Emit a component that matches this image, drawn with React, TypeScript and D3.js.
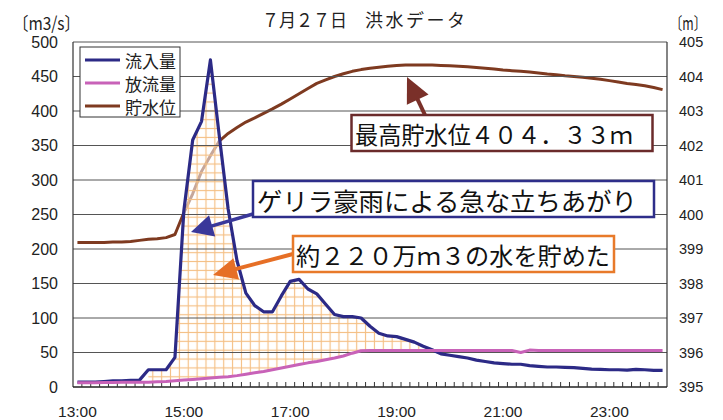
import React from 'react';
import * as d3 from 'd3';

// categories: every 10 minutes from 13:00 to 24:00
const times: string[] = d3.range(67).map((i) => {
  const m = 13 * 60 + i * 10;
  return `${Math.floor(m / 60)}:${String(m % 60).padStart(2, '0')}`;
});
const xTickLabels = ['13:00', '15:00', '17:00', '19:00', '21:00', '23:00'];
const leftTicks = [0, 50, 100, 150, 200, 250, 300, 350, 400, 450, 500];
const rightTicks = [395, 396, 397, 398, 399, 400, 401, 402, 403, 404, 405];

// 流入量 (m3/s)
const inflow = [
  7, 7, 7, 8, 9, 9, 9.5, 10, 25, 25, 25, 43, 255, 358, 385, 474, 364, 258, 183, 136,
  118, 109, 109, 132, 153, 156, 142, 135, 120, 105, 102, 102, 100, 88, 78, 74, 73, 69, 65, 59,
  54, 48, 46, 44, 42, 39, 37, 35, 34, 33, 33, 31, 30, 29, 29, 28.5, 28, 27, 26, 25.5,
  25, 25, 24.5, 25.5, 25, 24, 24,
];
// 放流量 (m3/s)
const outflow = [
  6, 6, 6, 6.5, 6.5, 7, 7, 7, 7, 7.5, 8, 9, 10, 11, 12, 13, 14, 15, 16.5, 18.5,
  20.5, 22.5, 25, 27.5, 30, 32.5, 35, 37, 39.5, 42, 45, 49, 52.5, 53, 53, 53, 53, 53, 53, 53,
  53, 53, 53, 53, 53, 53, 53, 53, 53, 53, 50, 53.5, 53, 53, 53, 53, 53, 53, 53, 53,
  53, 53, 53, 53, 53, 53, 53,
];
// 貯水位 (m)
const level = [
  399.19, 399.19, 399.19, 399.19, 399.2, 399.2, 399.22, 399.25, 399.28, 399.3, 399.33, 399.42, 400.05, 400.6, 401.25, 401.7, 402.13, 402.35, 402.52, 402.68,
  402.8, 402.93, 403.06, 403.2, 403.35, 403.5, 403.65, 403.8, 403.9, 404.0, 404.08, 404.15, 404.2, 404.24, 404.27, 404.3, 404.32, 404.33, 404.33, 404.33,
  404.33, 404.32, 404.31, 404.3, 404.28, 404.26, 404.24, 404.22, 404.19, 404.17, 404.15, 404.13, 404.1, 404.07, 404.05, 404.02, 404.0, 403.98, 403.95, 403.92,
  403.88, 403.84, 403.8, 403.77, 403.73, 403.68, 403.62,
];

const NAVY = '#2c2a86';
const PINK = '#c862b8';
const BROWN = '#7e3a20';
const JP = '"Noto Sans CJK JP", "Noto Sans CJK SC", sans-serif';
const LAT = '"Liberation Sans", Arial, sans-serif';

function Arrow({ x1, y1, x2, y2, color, w, hl, hw }: any) {
  const ang = Math.atan2(y2 - y1, x2 - x1);
  const bx = x2 - hl * Math.cos(ang);
  const by = y2 - hl * Math.sin(ang);
  const px = -Math.sin(ang) * (hw / 2);
  const py = Math.cos(ang) * (hw / 2);
  return (
    <g>
      <line x1={x1} y1={y1} x2={bx + hl * 0.2 * Math.cos(ang)} y2={by + hl * 0.2 * Math.sin(ang)} stroke={color} strokeWidth={w} />
      <polygon points={`${x2},${y2} ${bx + px},${by + py} ${bx - px},${by - py}`} fill={color} />
    </g>
  );
}

export default function App() {
  const W = 723;
  const H = 420;
  const L = 73, R = 667, T = 42, B = 387;
  const n = times.length;
  const x = d3.scaleLinear().domain([-0.5, n - 0.5]).range([L, R]);
  const yL = d3.scaleLinear().domain([0, 500]).range([B, T]);
  const yR = d3.scaleLinear().domain([395, 405]).range([B, T]);
  const bw = x(1) - x(0);

  const lineL = d3.line<number>().x((_, i) => x(i)).y((d) => yL(d));
  const lineR = d3.line<number>().x((_, i) => x(i)).y((d) => yR(d));

  const hatchIdx = d3.range(8, 42);
  const area = d3
    .area<number>()
    .x((i) => x(i))
    .y0((i) => yL(outflow[i]))
    .y1((i) => yL(Math.max(inflow[i], outflow[i])));

  const labelIdx = xTickLabels.map((t) => times.indexOf(t));

  return (
    <svg width={W} height={H} style={{ position: 'absolute', left: 0, top: 0, background: '#fff' }}>
      <defs>
        <pattern id="hgrid" patternUnits="userSpaceOnUse" x={L - bw / 2} y={0} width={bw} height={bw}>
          <line x1={bw / 2} y1={0} x2={bw / 2} y2={bw} stroke="#f4bf84" strokeWidth={1.15} />
          <line x1={0} y1={bw / 2} x2={bw} y2={bw / 2} stroke="#f4bf84" strokeWidth={1.15} />
        </pattern>
      </defs>
      <rect x={0} y={0} width={W} height={H} fill="#fff" />

      {/* title */}
      <text x={262} y={19} fontFamily={JP} fontSize={18} dominantBaseline="central" textLength={85} lengthAdjust="spacingAndGlyphs" fill="#222">７月２７日</text>
      <text x={365} y={19} fontFamily={JP} fontSize={18} dominantBaseline="central" textLength={100} lengthAdjust="spacing" fill="#222">洪水データ</text>
      <text x={13} y={22} fontFamily={JP} fontSize={18} dominantBaseline="central" textLength={67} lengthAdjust="spacingAndGlyphs" fill="#222">〔m3/s〕</text>
      <text x={670} y={22} fontFamily={JP} fontSize={17} dominantBaseline="central" textLength={36} lengthAdjust="spacingAndGlyphs" fill="#222">〔m〕</text>

      {/* water level line */}
      <path d={lineR(level) || ''} fill="none" stroke={BROWN} strokeWidth={3} strokeLinejoin="round" />

      {/* hatched storage area */}
      <path d={area(hatchIdx) || ''} fill="#fff" fillOpacity={0.55} />
      <path d={area(hatchIdx) || ''} fill="url(#hgrid)" />

      {/* gridlines */}
      {leftTicks.slice(1).map((t) => (
        <line key={t} x1={L} x2={R} y1={yL(t)} y2={yL(t)} stroke="#555" strokeWidth={1} />
      ))}
      <line x1={L} x2={L} y1={T} y2={B} stroke="#333" strokeWidth={1.2} />
      <line x1={R} x2={R} y1={T} y2={B} stroke="#333" strokeWidth={1.2} />
      <line x1={L} x2={R} y1={B} y2={B} stroke="#222" strokeWidth={1.3} />
      {d3.range(1, n).map((k) => (
        <line key={k} x1={x(k - 0.5)} x2={x(k - 0.5)} y1={B} y2={B - 5} stroke="#333" strokeWidth={1} />
      ))}

      {/* flows */}
      <path d={lineL(inflow) || ''} fill="none" stroke={NAVY} strokeWidth={3.2} strokeLinejoin="round" />
      <path d={lineL(outflow) || ''} fill="none" stroke={PINK} strokeWidth={3} strokeLinejoin="round" />

      {/* axis labels */}
      {leftTicks.map((t) => (
        <text key={t} x={58} y={yL(t)} textAnchor="end" dominantBaseline="central" fontFamily={LAT} fontSize={16} fill="#222">{t}</text>
      ))}
      {rightTicks.map((t) => (
        <text key={t} x={679} y={yR(t)} dominantBaseline="central" fontFamily={LAT} fontSize={14.5} fill="#222">{t}</text>
      ))}
      {labelIdx.map((i, k) => (
        <text key={k} x={x(i)} y={411} textAnchor="middle" dominantBaseline="central" fontFamily={LAT} fontSize={15.5} fill="#222">{xTickLabels[k]}</text>
      ))}

      {/* legend */}
      <rect x={80} y={47} width={100} height={70} fill="#fff" stroke="#333" strokeWidth={1} />
      {[
        { c: NAVY, t: '流入量' },
        { c: PINK, t: '放流量' },
        { c: BROWN, t: '貯水位' },
      ].map((e, k) => (
        <g key={k}>
          <line x1={85} x2={120} y1={60 + k * 23} y2={60 + k * 23} stroke={e.c} strokeWidth={3} />
          <text x={125} y={60 + k * 23} dominantBaseline="central" fontFamily={JP} fontSize={17} fill="#222">{e.t}</text>
        </g>
      ))}

      {/* annotations */}
      <Arrow x1={425} y1={115} x2={407} y2={77} color="#7a3029" w={4} hl={25} hw={24} />
      <Arrow x1={253} y1={214} x2={191} y2={232} color="#3a389a" w={3.5} hl={22} hw={22} />
      <Arrow x1={293} y1={254} x2={213} y2={275} color="#e66f26" w={4} hl={24} hw={22} />

      <rect x={351.5} y={115} width={301} height={36} fill="#fff" stroke="#6b2b2b" strokeWidth={2.5} />
      <text x={355} y={133.5} dominantBaseline="central" fontFamily={JP} fontSize={23.5} textLength={278} lengthAdjust="spacingAndGlyphs" fill="#111">最高貯水位４０４．３３ｍ</text>

      <rect x={253} y={181} width={401} height={36} fill="#fff" stroke="#2e2e8a" strokeWidth={2.5} />
      <text x={257} y={199.5} dominantBaseline="central" fontFamily={JP} fontSize={25} textLength={380} lengthAdjust="spacingAndGlyphs" fill="#111">ゲリラ豪雨による急な立ちあがり</text>

      <rect x={293} y={236} width={321} height={36} fill="#fff" stroke="#e87a2a" strokeWidth={2.5} />
      <text x={296} y={254.5} dominantBaseline="central" fontFamily={JP} fontSize={24} textLength={314} lengthAdjust="spacingAndGlyphs" fill="#111">約２２０万ｍ３の水を貯めた</text>
    </svg>
  );
}
